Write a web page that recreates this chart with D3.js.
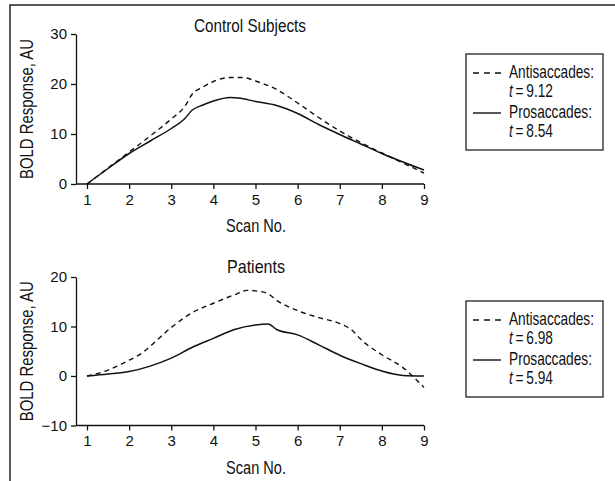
<!DOCTYPE html>
<html>
<head>
<meta charset="utf-8">
<script src="https://cdn.jsdelivr.net/npm/d3@7"></script>
<style>
    body { margin: 0; background: #fff; }
    svg text { font-family: "Liberation Sans", Arial, sans-serif; fill: #111; }
</style>
</head>
<body>
<div id="chart"></div>
<script>
// scan numbers and BOLD values
const ctrlAntiScan = [1, 1.5, 2, 2.5, 3, 3.33, 3.5, 3.75, 4, 4.4, 4.7, 5, 5.5, 6, 6.5, 7, 7.5, 8, 8.5, 9];
const ctrlAntiVal  = [0, 3.2, 6.4, 9.6, 13.0, 15.6, 18.0, 19.4, 20.5, 21.3, 21.3, 20.6, 18.9, 16.2, 13.3, 10.6, 8.3, 6.2, 4.2, 2.2];
const ctrlProScan  = [1, 1.5, 2, 2.5, 3, 3.3, 3.5, 3.75, 4, 4.4, 4.6, 5, 5.5, 6, 6.5, 7, 7.5, 8, 8.5, 9];
const ctrlProVal   = [0, 3.1, 6.1, 8.6, 11.1, 12.9, 14.8, 15.8, 16.6, 17.3, 17.2, 16.5, 15.7, 14.1, 11.9, 9.9, 8.0, 6.1, 4.4, 2.8];

const patAntiScan  = [1, 1.5, 2, 2.3, 2.5, 3, 3.5, 4, 4.5, 4.8, 5, 5.3, 5.5, 6, 6.5, 7, 7.3, 7.5, 8, 8.5, 9];
const patAntiVal   = [0, 1.2, 3.2, 4.6, 6.0, 9.8, 12.8, 14.7, 16.4, 17.3, 17.2, 16.6, 15.3, 13.2, 11.8, 10.6, 9.2, 7.4, 4.3, 1.7, -2.3];
const patProScan   = [1, 1.5, 2, 2.5, 3, 3.5, 4, 4.5, 5, 5.3, 5.5, 6, 6.5, 7, 7.5, 8, 8.5, 9];
const patProVal    = [0, 0.4, 0.9, 2.0, 3.6, 5.8, 7.6, 9.4, 10.3, 10.5, 9.4, 8.3, 6.3, 4.2, 2.5, 1.0, 0.1, 0];

const scanTicks = [1, 2, 3, 4, 5, 6, 7, 8, 9];
const ctrlYTicks = [0, 10, 20, 30];
const patYTicks = [-10, 0, 10, 20];

const ctrlStats = ["9.12", "8.54"];
const patStats = ["6.98", "5.94"];

const W = 615, H = 481;

const svg = d3.select("#chart")
    .append("svg")
    .attr("width", W)
    .attr("height", H);

// outer frame (top and left edges only)
svg.append("path")
    .attr("d", `M10,${H} L10,5 L${W},5`)
    .attr("fill", "none")
    .attr("stroke", "#222")
    .attr("stroke-width", 1.5);

function toPoints(xs, ys) {
    return xs.map((x, i) => ({ x: x, y: ys[i] }));
}

// the original uses a condensed face: place a label and squeeze it horizontally to width w
function label(parent, x, y, txt, w, opts = {}) {
    const grp = parent.append("g");
    const t = grp.append("text")
        .attr("text-anchor", opts.anchor || "start")
        .style("font-size", (opts.size || 17.5) + "px");
    if (opts.italicT) {
        t.append("tspan").style("font-style", "italic").text("t");
        t.append("tspan").text(txt);
    } else {
        t.text(txt);
    }
    const natural = t.node().getComputedTextLength();
    const sx = w / natural;
    grp.attr("transform", `translate(${x},${y}) rotate(${opts.rotate || 0}) scale(${sx},1)`);
    return grp;
}

function drawPanel(opts) {
    const xScale = d3.scaleLinear().domain([1, 9]).range([87, 424]);
    const yScale = d3.scaleLinear().domain(opts.yDomain).range(opts.yRange);
    const g = svg.append("g");

    // y axis
    const yAxis = d3.axisLeft(yScale).tickValues(opts.yTicks).tickSize(5).tickSizeOuter(0).tickPadding(4);
    const ya = g.append("g")
        .attr("transform", "translate(76,0)")
        .call(yAxis);
    ya.selectAll("text").style("font-size", "15px");

    // x axis - domain line runs from the y axis to the last tick
    const xAxis = d3.axisBottom(xScale).tickValues(scanTicks).tickSize(5).tickSizeOuter(0).tickPadding(5);
    const xa = g.append("g")
        .attr("transform", `translate(0,${yScale(opts.yDomain[0])})`)
        .call(xAxis);
    xa.select(".domain").remove();
    xa.append("line")
        .attr("x1", 76).attr("x2", xScale(9))
        .attr("stroke", "#111");
    xa.selectAll("text").style("font-size", "15px");

    g.selectAll(".domain, .tick line").attr("stroke", "#111").attr("stroke-width", 1.3);
    xa.selectAll("line").attr("stroke-width", 1.3);

    const line = d3.line()
        .x(d => xScale(d.x))
        .y(d => yScale(d.y))
        .curve(d3.curveMonotoneX);

    g.append("path")
        .datum(toPoints(opts.antiX, opts.antiY))
        .attr("d", line)
        .attr("fill", "none")
        .attr("stroke", "#111")
        .attr("stroke-width", 1.4)
        .attr("stroke-dasharray", "5,4");

    g.append("path")
        .datum(toPoints(opts.proX, opts.proY))
        .attr("d", line)
        .attr("fill", "none")
        .attr("stroke", "#111")
        .attr("stroke-width", 1.5);

    // titles and labels
    label(g, opts.titleX, opts.titleY, opts.title, opts.titleW, { anchor: "middle" });
    label(g, 256, yScale(opts.yDomain[0]) + 48, "Scan No.", 60, { anchor: "middle" });

    const yMid = (opts.yRange[0] + opts.yRange[1]) / 2;
    label(g, 33, yMid, "BOLD Response, AU", 140, { anchor: "middle", rotate: -90 });

    // legend box
    const ly = opts.legendY;
    const leg = g.append("g").attr("transform", `translate(466,${ly})`);
    leg.append("rect")
        .attr("width", 137).attr("height", 96)
        .attr("fill", "#fff")
        .attr("stroke", "#222")
        .attr("stroke-width", 1.3);

    const items = [
        { name: "Antisaccades:", w: 85, t: opts.stats[0], dash: "6,5", y: 19 },
        { name: "Prosaccades:", w: 83, t: opts.stats[1], dash: null, y: 59 }
    ];
    items.forEach(it => {
        leg.append("line")
            .attr("x1", 7).attr("x2", 35)
            .attr("y1", it.y).attr("y2", it.y)
            .attr("stroke", "#111")
            .attr("stroke-width", 1.4)
            .attr("stroke-dasharray", it.dash);
        label(leg, 43, it.y + 5, it.name, it.w);
        label(leg, 43, it.y + 23.5, "\u2009=\u2009" + it.t, 44, { italicT: true });
    });
}

drawPanel({
    title: "Control Subjects", titleX: 250, titleY: 31.5, titleW: 112,
    yDomain: [0, 30], yRange: [184, 34], yTicks: ctrlYTicks,
    antiX: ctrlAntiScan, antiY: ctrlAntiVal,
    proX: ctrlProScan, proY: ctrlProVal,
    legendY: 54, stats: ctrlStats
});

drawPanel({
    title: "Patients", titleX: 256, titleY: 272.5, titleW: 58,
    yDomain: [-10, 20], yRange: [425.5, 277], yTicks: patYTicks,
    antiX: patAntiScan, antiY: patAntiVal,
    proX: patProScan, proY: patProVal,
    legendY: 301, stats: patStats
});
</script>
</body>
</html>
